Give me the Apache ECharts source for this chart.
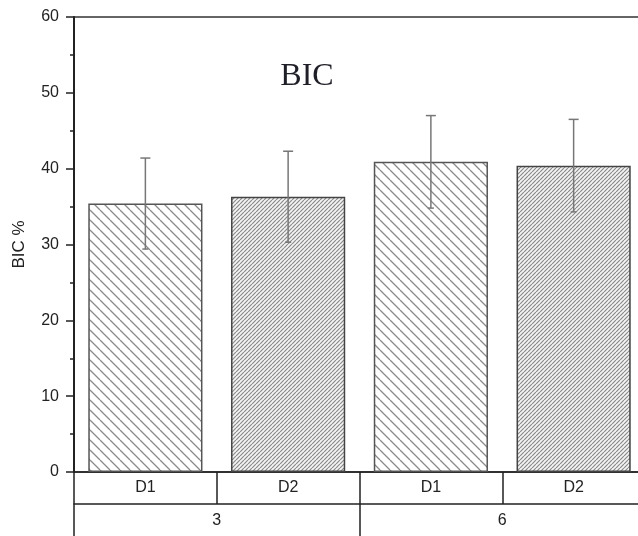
<!DOCTYPE html>
<html>
<head>
<meta charset="utf-8">
<script src="https://cdn.jsdelivr.net/npm/echarts@6/dist/echarts.min.js"></script>
<style>html,body{margin:0;padding:0;background:#fff;overflow:hidden;width:638px;height:536px}#c{width:645px;height:536px}</style>
</head>
<body>
<div id="c"></div>
<script>
var categories = ['D1', 'D2', 'D1', 'D2'];
var groups = ['3', '6'];
var values = [35.4, 36.3, 40.9, 40.4];
var errors = [6.0, 6.0, 6.1, 6.1];
var yTicks = [0, 10, 20, 30, 40, 50, 60];

function hatch(period, dir, color, width, bg) {
  var c = document.createElement('canvas');
  c.width = period; c.height = period;
  var g = c.getContext('2d');
  g.fillStyle = bg; g.fillRect(0, 0, period, period);
  g.strokeStyle = color; g.lineWidth = width;
  g.beginPath();
  for (var k = -1; k <= 1; k++) {
    if (dir === 'back') { g.moveTo(k * period, 0); g.lineTo(k * period + period, period); }
    else { g.moveTo(k * period, period); g.lineTo(k * period + period, 0); }
  }
  g.stroke();
  return c;
}
var patD1 = hatch(10, 'back', '#8a8a8a', 1.3, '#fff');
var patD2 = hatch(4, 'fwd', '#8a8a8a', 1.2, '#f4f4f4');

var chart = echarts.init(document.getElementById('c'), null, {renderer: 'canvas'});
var barData = values.map(function (v, i) {
  var isD1 = categories[i] === 'D1';
  return {
    value: v,
    itemStyle: {
      color: {image: isD1 ? patD1 : patD2, repeat: 'repeat'},
      borderColor: isD1 ? '#555' : '#444',
      borderWidth: 1.5
    }
  };
});
var errData = values.map(function (v, i) { return [i, v - errors[i], v + errors[i]]; });
var font = 'Arial, "Liberation Sans", sans-serif';

chart.setOption({
  animation: false,
  grid: {left: 74, top: 17, right: 0, bottom: 64, show: true, borderColor: '#333', borderWidth: 1.5, backgroundColor: 'transparent'},
  xAxis: [{
    type: 'category', data: categories, position: 'bottom',
    axisLine: {show: true, lineStyle: {color: '#222', width: 1.5}},
    axisTick: {show: true, interval: 0, length: 32, lineStyle: {color: '#222', width: 1.5}},
    axisLabel: {interval: 0, margin: 16, verticalAlign: 'middle', fontFamily: font, fontSize: 16, color: '#222'},
    splitLine: {show: false}
  }, {
    type: 'category', data: groups, position: 'bottom', offset: 32,
    axisLine: {show: true, lineStyle: {color: '#222', width: 1.5}},
    axisTick: {show: true, interval: 0, length: 40, lineStyle: {color: '#222', width: 1.5}},
    axisLabel: {interval: 0, margin: 17, verticalAlign: 'middle', fontFamily: font, fontSize: 16, color: '#222'},
    splitLine: {show: false}
  }],
  yAxis: {
    type: 'value', min: yTicks[0], max: yTicks[yTicks.length - 1], interval: 10,
    name: 'BIC %', nameLocation: 'middle', nameGap: 46,
    nameTextStyle: {fontFamily: font, fontSize: 17, color: '#222'},
    axisLine: {show: true, lineStyle: {color: '#222', width: 2}},
    axisTick: {show: true, length: 8, lineStyle: {color: '#222', width: 1.5}},
    minorTick: {show: true, splitNumber: 2, length: 4, lineStyle: {color: '#222', width: 1.5}},
    axisLabel: {margin: 15, fontFamily: font, fontSize: 16, color: '#222'},
    splitLine: {show: false}
  },
  graphic: [{
    type: 'text', x: 307, y: 77, z: 10,
    style: {text: 'BIC', font: '32px "Liberation Serif", "Times New Roman", serif', fill: '#1f1f28', textAlign: 'center', textVerticalAlign: 'middle'}
  }],
  series: [{
    type: 'bar', xAxisIndex: 0, data: barData, barWidth: '80%'
  }, {
    type: 'custom', xAxisIndex: 0, data: errData, z: 5,
    renderItem: function (params, api) {
      var x = api.value(0);
      var lo = api.coord([x, api.value(1)]);
      var hi = api.coord([x, api.value(2)]);
      var st = {stroke: '#777', lineWidth: 1.5};
      return {type: 'group', children: [
        {type: 'line', shape: {x1: hi[0], y1: hi[1], x2: lo[0], y2: lo[1]}, style: st},
        {type: 'line', shape: {x1: hi[0] - 5, y1: hi[1], x2: hi[0] + 5, y2: hi[1]}, style: st},
        {type: 'line', shape: {x1: lo[0] - 3, y1: lo[1], x2: lo[0] + 3, y2: lo[1]}, style: st}
      ]};
    }
  }]
});
</script>
</body>
</html>
